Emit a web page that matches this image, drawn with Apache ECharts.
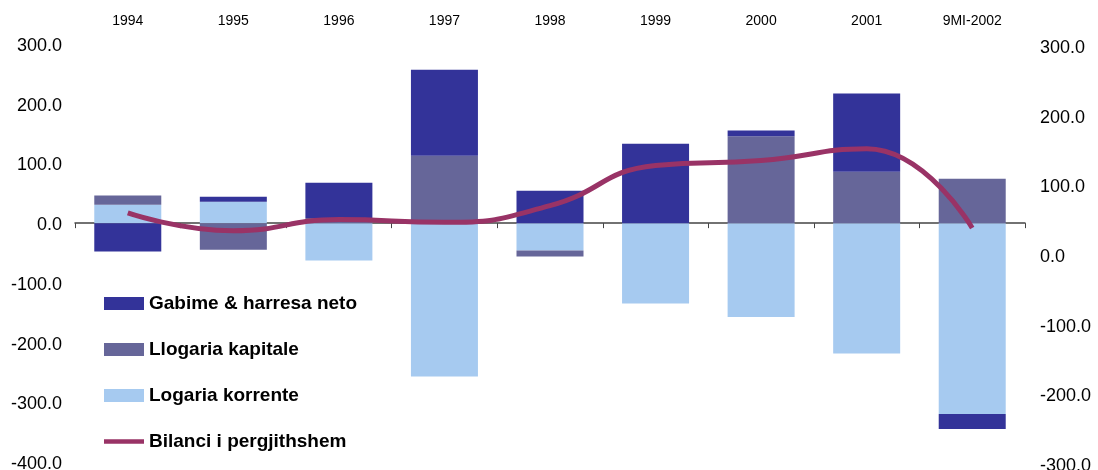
<!DOCTYPE html>
<html>
<head>
<meta charset="utf-8">
<script src="https://cdn.jsdelivr.net/npm/echarts@6/dist/echarts.min.js"></script>
<style>
html,body{margin:0;padding:0;background:#fff;}
#chart{width:1098px;height:470px;}
</style>
</head>
<body>
<div id="chart"></div>
<script>
const categories = ['1994','1995','1996','1997','1998','1999','2000','2001','9MI-2002'];
const gabime = [-47.5, 8.4, 59.1, 144, 54.3, 133, 9.6, 130.8, -25];
const kapitale = [15.5, -44.6, 8.6, 113, -10, 0, 145.4, 86.2, 74.4];
const korrente = [30.9, 35.9, -62.5, -257, -45.8, -134.6, -157, -218.5, -319.6];
const bilanci = [57.5, 32, 48, 44, 68, 125.6, 132.8, 149.6, 36];
const leftTicks = {min: -400, max: 300, interval: 100};
const rightTicks = {min: -300, max: 300, interval: 100};

const names = ['Gabime & harresa neto', 'Llogaria kapitale', 'Logaria korrente', 'Bilanci i pergjithshem'];
const FONT = 'Liberation Sans, Arial, sans-serif';

const chart = echarts.init(document.getElementById('chart'));
chart.setOption({
  animation: false,
  textStyle: {fontFamily: FONT},
  grid: {left: 75, right: 73, top: 44, bottom: 8, containLabel: false, outerBoundsMode: 'none'},
  legend: {
    orient: 'vertical',
    left: 99,
    top: 289,
    itemWidth: 40,
    itemHeight: 13,
    itemGap: 27,
    data: [
      {name: names[0], icon: 'rect'},
      {name: names[1], icon: 'rect'},
      {name: names[2], icon: 'rect'},
      {name: names[3], icon: 'path://M0,0 L44,0 L44,5 L0,5 Z', itemStyle: {color: '#993366'}}
    ],
    textStyle: {fontFamily: FONT, fontSize: 19, fontWeight: 'bold', color: '#000'}
  },
  xAxis: [
    {
      type: 'category', position: 'top', data: categories,
      axisLine: {show: false}, axisTick: {show: false},
      axisLabel: {fontSize: 14, color: '#000', margin: 16, fontFamily: FONT}
    },
    {
      type: 'category', position: 'bottom', data: categories,
      axisLine: {show: true, onZero: true, onZeroAxisIndex: 0, lineStyle: {color: '#444', width: 1.5}},
      axisTick: {show: true, length: 5, lineStyle: {color: '#444'}},
      axisLabel: {show: false}
    }
  ],
  yAxis: [
    {
      type: 'value', min: leftTicks.min, max: leftTicks.max, interval: leftTicks.interval,
      axisLine: {show: false}, axisTick: {show: false}, splitLine: {show: false},
      axisLabel: {color: '#000', margin: 13, formatter: v => '{a|' + v.toFixed(1) + '}',
        rich: {a: {fontSize: 18, color: '#000', fontFamily: FONT, padding: [4, 0, 0, 0]}}}
    },
    {
      type: 'value', position: 'right', min: rightTicks.min, max: rightTicks.max, interval: rightTicks.interval,
      axisLine: {show: false}, axisTick: {show: false}, splitLine: {show: false},
      axisLabel: {color: '#000', margin: 15, formatter: v => '{a|' + v.toFixed(1) + '}',
        rich: {a: {fontSize: 18, color: '#000', fontFamily: FONT, padding: [8, 0, 0, 0]}}}
    }
  ],
  series: [
    {name: names[2], type: 'bar', stack: 'b', data: korrente, barWidth: 67, itemStyle: {color: '#A6CAF0'}},
    {name: names[1], type: 'bar', stack: 'b', data: kapitale, barWidth: 67, itemStyle: {color: '#666699'}},
    {name: names[0], type: 'bar', stack: 'b', data: gabime, barWidth: 67, itemStyle: {color: '#333399'}},
    {name: names[3], type: 'line', yAxisIndex: 1, data: bilanci, smooth: 0.5, symbol: 'none',
     lineStyle: {color: '#993366', width: 5}, itemStyle: {color: '#993366'}, z: 5}
  ]
});
</script>
</body>
</html>
